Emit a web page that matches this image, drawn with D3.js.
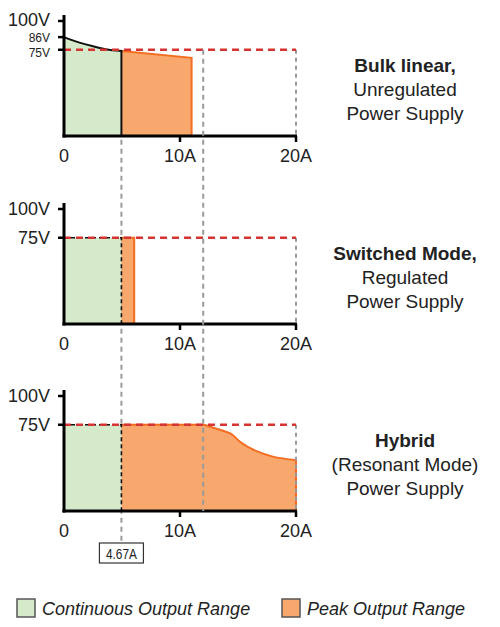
<!DOCTYPE html>
<html>
<head>
<meta charset="utf-8">
<script src="https://cdn.jsdelivr.net/npm/d3@7"></script>
<style>
  body { margin: 0; background: #fff; }
  text { font-family: "Liberation Sans", Arial, sans-serif; fill: #222; }
</style>
</head>
<body>
<div id="chart"></div>
<script>
// values
var xTicks = [0, 10, 20];
var xTickLabels = ["0", "10A", "20A"];
var maxAmps = 20;
var ratedVolts = 75;
var contLimit = 4.95;      // where the 4.67A marker sits in the drawing
var contLabel = "4.67A";
var hybridKnee = 12;

var panelTitles = [
    ["Bulk linear,", "Unregulated", "Power Supply"],
    ["Switched Mode,", "Regulated", "Power Supply"],
    ["Hybrid", "(Resonant Mode)", "Power Supply"]
];
var panelYTicks = [[100, 86, 75], [100, 75], [100, 75]];
var panelYSmall = [[false, true, true], [false, false], [false, false]];

// continuous range (green) top edges
var bulkCont = [[0, 86], [1.4, 81], [2.5, 78], [3.6, 75.5], [4.95, 74]];
var switchedCont = [[0, 75], [4.95, 75]];
var hybridCont = [[0, 75], [4.95, 75]];

// peak range (orange) top edges
var bulkPeak = [[4.95, 74], [11, 68]];
var switchedPeak = [[4.95, 75], [6.05, 75]];
var hybridPeak = [[4.95, 75], [12, 75], [12.6, 73.2], [13.7, 69.8], [14.4, 67], [15.2, 60], [16.6, 52], [18, 47.3], [20, 44.3]];

var contData = [bulkCont, switchedCont, hybridCont];
var peakData = [bulkPeak, switchedPeak, hybridPeak];

var legendLabels = ["Continuous Output Range", "Peak Output Range"];

var svgWidth = 500;
var svgHeight = 627;
var axisYs = [136, 324, 511];
var plotH = 115;

var green = "#d5eacb";
var orange = "#f8a86c";
var orangeLine = "#f36d21";
var red = "#d63333";
var grey = "#9a9a9a";

var svg = d3.select("#chart")
    .append("svg")
    .attr("width", svgWidth)
    .attr("height", svgHeight);

var x = d3.scaleLinear()
    .domain([0, maxAmps])
    .range([64, 296]);

var yScales = axisYs.map(function(a) {
    return d3.scaleLinear().domain([0, 100]).range([a, a - plotH]);
});

// long grey marker at the continuous limit, behind everything
svg.append("line")
    .attr("x1", x(contLimit)).attr("x2", x(contLimit))
    .attr("y1", yScales[0](ratedVolts)).attr("y2", 543)
    .attr("stroke", grey).attr("stroke-width", 2)
    .attr("stroke-dasharray", "5,4");

axisYs.forEach(function(axisY, i) {
    var y = yScales[i];
    var g = svg.append("g");

    var area = d3.area()
        .x(d => x(d[0]))
        .y0(y(0))
        .y1(d => y(d[1]))
        .curve(i == 1 ? d3.curveLinear : d3.curveMonotoneX);

    var edge = d3.line()
        .x(d => x(d[0]))
        .y(d => y(d[1]))
        .curve(i == 1 ? d3.curveLinear : d3.curveMonotoneX);

    // green area
    g.append("path")
        .attr("d", area(contData[i]))
        .attr("fill", green);

    // orange area
    g.append("path")
        .attr("d", area(peakData[i]))
        .attr("fill", orange);

    // orange top and right edge
    var pk = peakData[i];
    var last = pk[pk.length - 1];
    g.append("path")
        .attr("d", edge(pk) + "L" + x(last[0]) + "," + y(0))
        .attr("fill", "none")
        .attr("stroke", orangeLine)
        .attr("stroke-width", 2);

    // green top and right edge
    var ct = contData[i];
    var lastC = ct[ct.length - 1];
    g.append("path")
        .attr("d", edge(ct) + "L" + x(lastC[0]) + "," + y(0))
        .attr("fill", "none")
        .attr("stroke", "#111")
        .attr("stroke-width", i == 0 ? 2 : 1.6)
        .attr("stroke-dasharray", i == 0 ? null : "4,3");

    // dotted line at 20A
    g.append("line")
        .attr("x1", x(maxAmps)).attr("x2", x(maxAmps))
        .attr("y1", y(ratedVolts)).attr("y2", y(0))
        .attr("stroke", grey).attr("stroke-width", 2)
        .attr("stroke-dasharray", "4,4");

    // rated voltage line
    g.append("line")
        .attr("x1", x(0)).attr("x2", x(maxAmps))
        .attr("y1", y(ratedVolts)).attr("y2", y(ratedVolts))
        .attr("stroke", red).attr("stroke-width", 2.5)
        .attr("stroke-dasharray", "7,5");

    // axes
    g.append("line")
        .attr("x1", x(0)).attr("x2", x(0))
        .attr("y1", y(100) - 6).attr("y2", y(0) + 1.5)
        .attr("stroke", "#000").attr("stroke-width", 3);
    g.append("line")
        .attr("x1", x(0) - 1.5).attr("x2", x(maxAmps) + 1)
        .attr("y1", y(0)).attr("y2", y(0))
        .attr("stroke", "#000").attr("stroke-width", 3);

    panelYTicks[i].forEach(function(v, j) {
        g.append("line")
            .attr("x1", x(0) - 6).attr("x2", x(0))
            .attr("y1", y(v)).attr("y2", y(v))
            .attr("stroke", "#000").attr("stroke-width", 2.5);
        var small = panelYSmall[i][j];
        // keep the crowded labels of the top panel apart
        var shift = 0;
        if (i == 0) shift = v == 100 ? -1.5 : (v == 86 ? 1 : 2.5);
        g.append("text")
            .attr("x", 50)
            .attr("y", y(v) + shift)
            .attr("dy", "0.36em")
            .attr("text-anchor", "end")
            .attr("font-size", small ? "12px" : "18px")
            .text(v + "V");
    });

    xTicks.forEach(function(t, j) {
        if (t > 0) {
            g.append("line")
                .attr("x1", x(t)).attr("x2", x(t))
                .attr("y1", y(0)).attr("y2", y(0) + 6)
                .attr("stroke", "#000").attr("stroke-width", 2.5);
        }
        g.append("text")
            .attr("x", x(t))
            .attr("y", y(0) + 26)
            .attr("text-anchor", "middle")
            .attr("font-size", "18px")
            .text(xTickLabels[j]);
    });

    // title on the right
    panelTitles[i].forEach(function(line, j) {
        g.append("text")
            .attr("x", 405)
            .attr("y", axisY - 64 + j * 24)
            .attr("text-anchor", "middle")
            .attr("font-size", "19px")
            .attr("font-weight", j == 0 ? "bold" : "normal")
            .text(line);
    });
});

// grey marker at the hybrid knee, drawn over the areas
svg.append("line")
    .attr("x1", x(hybridKnee)).attr("x2", x(hybridKnee))
    .attr("y1", yScales[0](ratedVolts)).attr("y2", yScales[2](0))
    .attr("stroke", grey).attr("stroke-width", 2)
    .attr("stroke-dasharray", "5,4");

// 4.67A label box
svg.append("rect")
    .attr("x", x(contLimit) - 22)
    .attr("y", 543)
    .attr("width", 44)
    .attr("height", 20)
    .attr("fill", "#fff")
    .attr("stroke", "#333")
    .attr("stroke-width", 1.2);
svg.append("text")
    .attr("x", x(contLimit))
    .attr("y", 559)
    .attr("text-anchor", "middle")
    .attr("font-size", "15px")
    .attr("textLength", 31)
    .attr("lengthAdjust", "spacingAndGlyphs")
    .text(contLabel);

// legend
var legendX = [17, 282];
var legendFill = [green, orange];
legendLabels.forEach(function(lbl, i) {
    svg.append("rect")
        .attr("x", legendX[i]).attr("y", 599)
        .attr("width", 18).attr("height", 18)
        .attr("fill", legendFill[i])
        .attr("stroke", "#555").attr("stroke-width", 1.5);
    svg.append("text")
        .attr("x", legendX[i] + 25)
        .attr("y", 615)
        .attr("font-size", "18px")
        .attr("font-style", "italic")
        .text(lbl);
});
</script>
</body>
</html>
